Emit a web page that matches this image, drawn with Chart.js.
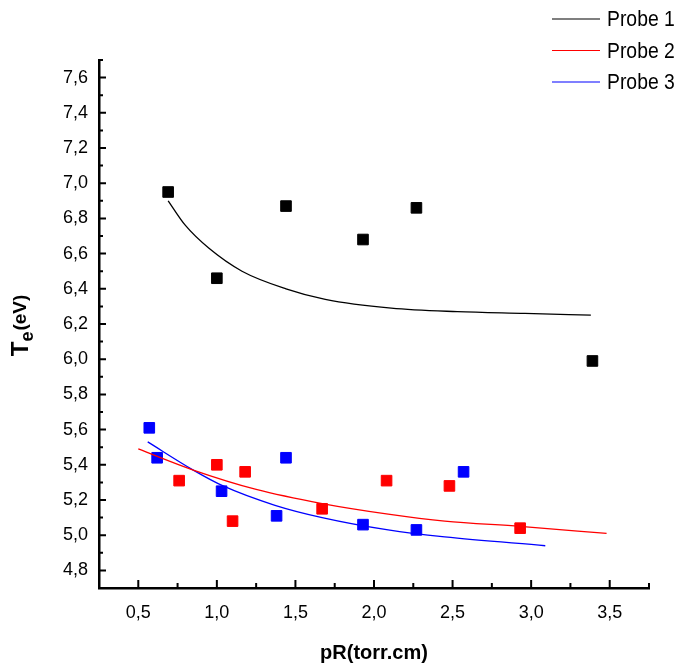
<!DOCTYPE html>
<html>
<head>
<meta charset="utf-8">
<script src="https://cdn.jsdelivr.net/npm/chart.js@4.4.1/dist/chart.umd.min.js"></script>
<style>
  html, body { margin: 0; padding: 0; background: #fff; }
  #wrap { width: 683px; height: 668px; }
</style>
</head>
<body>
<div id="wrap"><canvas id="teChart" width="683" height="668"></canvas></div>
<script>
const probe1X = [0.69, 1.00, 1.44, 1.93, 2.27, 3.39];
const probe1Y = [6.95, 6.46, 6.87, 6.68, 6.86, 5.99];
const probe2X = [0.76, 1.00, 1.10, 1.18, 1.67, 2.08, 2.48, 2.93];
const probe2Y = [5.31, 5.40, 5.08, 5.36, 5.15, 5.31, 5.28, 5.04];
const probe3X = [0.57, 0.62, 1.03, 1.38, 1.44, 1.93, 2.27, 2.57];
const probe3Y = [5.61, 5.44, 5.25, 5.11, 5.44, 5.06, 5.03, 5.36];

// fitted curves
const fit1X = [0.69, 0.80, 0.95, 1.16, 1.44, 1.69, 2.11, 2.53, 2.96, 3.38];
const fit1Y = [6.90, 6.76, 6.63, 6.50, 6.40, 6.34, 6.29, 6.27, 6.26, 6.25];
const fit2X = [0.50, 0.85, 1.25, 1.67, 2.09, 2.45, 2.93, 3.48];
const fit2Y = [5.49, 5.37, 5.26, 5.18, 5.12, 5.08, 5.05, 5.01];
const fit3X = [0.56, 0.85, 1.04, 1.37, 1.67, 2.09, 2.45, 3.09];
const fit3Y = [5.53, 5.37, 5.28, 5.17, 5.10, 5.03, 4.99, 4.94];

const seriesNames = ['Probe 1', 'Probe 2', 'Probe 3'];
const seriesColors = ['#000000', '#ff0000', '#0000ff'];

const xTicks = [0.5, 1.0, 1.5, 2.0, 2.5, 3.0, 3.5];
const yTicks = [4.8, 5.0, 5.2, 5.4, 5.6, 5.8, 6.0, 6.2, 6.4, 6.6, 6.8, 7.0, 7.2, 7.4, 7.6];

const FONT = '"Liberation Sans", Arial, sans-serif';

function pairs(xs, ys) {
  return xs.map((x, i) => ({ x: x, y: ys[i] }));
}

const fits = [[fit1X, fit1Y], [fit2X, fit2Y], [fit3X, fit3Y]];
const points = [[probe1X, probe1Y], [probe2X, probe2Y], [probe3X, probe3Y]];

let datasets = [];
for (let i = 0; i < 3; i++) {
  datasets.push({
    type: 'line',
    label: seriesNames[i],
    data: pairs(fits[i][0], fits[i][1]),
    borderColor: seriesColors[i],
    borderWidth: 1.3,
    pointRadius: 0,
    fill: false,
    cubicInterpolationMode: 'monotone',
    isFit: true
  });
}
for (let i = 0; i < 3; i++) {
  datasets.push({
    type: 'scatter',
    label: seriesNames[i] + ' data',
    data: pairs(points[i][0], points[i][1]),
    backgroundColor: seriesColors[i],
    borderColor: seriesColors[i],
    borderWidth: 1,
    pointStyle: 'rect',
    pointRadius: 7.5,
    isFit: false
  });
}

const comma = v => v.toFixed(1).replace('.', ',');

// ticks point inward, like the original plot
const innerTicks = {
  id: 'innerTicks',
  afterDraw(chart) {
    const ctx = chart.ctx;
    const xs = chart.scales.x, ys = chart.scales.y;
    const area = chart.chartArea;
    ctx.save();
    ctx.strokeStyle = '#000';
    ctx.lineWidth = 2;
    ctx.beginPath();
    for (let i = 0; i < xTicks.length; i++) {
      const px = xs.getPixelForValue(xTicks[i]);
      ctx.moveTo(px, area.bottom);
      ctx.lineTo(px, area.bottom - 8);
    }
    let xMinor = [xTicks[0] - 0.25].concat(xTicks.map(v => v + 0.25));
    for (let i = 0; i < xMinor.length; i++) {
      const px = xs.getPixelForValue(xMinor[i]);
      ctx.moveTo(px, area.bottom);
      ctx.lineTo(px, area.bottom - 5);
    }
    for (let i = 0; i < yTicks.length; i++) {
      const py = ys.getPixelForValue(yTicks[i]);
      ctx.moveTo(area.left, py);
      ctx.lineTo(area.left + 7, py);
    }
    let yMinor = [yTicks[0] - 0.1].concat(yTicks.map(v => v + 0.1));
    for (let i = 0; i < yMinor.length; i++) {
      const py = ys.getPixelForValue(yMinor[i]);
      ctx.moveTo(area.left, py);
      ctx.lineTo(area.left + 4, py);
    }
    ctx.stroke();
    ctx.restore();
  }
};

const titlesAndLegend = {
  id: 'titlesAndLegend',
  afterDraw(chart) {
    const ctx = chart.ctx;
    const area = chart.chartArea;
    ctx.save();
    ctx.fillStyle = '#000';

    // x title
    ctx.font = 'bold 20px ' + FONT;
    ctx.textAlign = 'center';
    ctx.textBaseline = 'alphabetic';
    ctx.fillText('pR(torr.cm)', (area.left + area.right) / 2, 659);

    // y title, T with subscript e
    ctx.translate(28, 326);
    ctx.rotate(-Math.PI / 2);
    ctx.textAlign = 'left';
    ctx.font = 'bold 24px ' + FONT;
    const wT = ctx.measureText('T').width;
    ctx.font = 'bold 18px ' + FONT;
    const wE = ctx.measureText('e').width;
    ctx.font = 'bold 19px ' + FONT;
    const wU = ctx.measureText('(eV)').width;
    let start = -(wT + wE + wU) / 2;
    ctx.font = 'bold 24px ' + FONT;
    ctx.fillText('T', start, 0);
    ctx.font = 'bold 18px ' + FONT;
    ctx.fillText('e', start + wT, 5);
    ctx.font = 'bold 19px ' + FONT;
    ctx.fillText('(eV)', start + wT + wE + 1, -2);
    ctx.setTransform(1, 0, 0, 1, 0, 0);

    // legend, a little condensed like the original
    ctx.textBaseline = 'middle';
    ctx.textAlign = 'left';
    let k = 0;
    chart.data.datasets.forEach(ds => {
      if (!ds.isFit) return;
      const y = 19 + k * 31.5;
      ctx.strokeStyle = ds.borderColor;
      ctx.lineWidth = 1.2;
      ctx.beginPath();
      ctx.moveTo(552, y);
      ctx.lineTo(600, y);
      ctx.stroke();
      ctx.save();
      ctx.translate(607, y + 1);
      ctx.scale(0.88, 1);
      ctx.fillStyle = '#000';
      ctx.font = '22px ' + FONT;
      ctx.fillText(ds.label, 0, 0);
      ctx.restore();
      k++;
    });
    ctx.restore();
  }
};

const teChart = new Chart(document.getElementById('teChart'), {
  data: { datasets: datasets },
  options: {
    responsive: false,
    animation: false,
    layout: { padding: { left: 0, top: 60, right: 34, bottom: 0 } },
    plugins: {
      legend: { display: false },
      tooltip: { enabled: false }
    },
    scales: {
      x: {
        type: 'linear',
        min: 0.25,
        max: 3.75,
        afterBuildTicks: scale => { scale.ticks = xTicks.map(v => ({ value: v })); },
        afterFit: scale => { scale.height = 80; },
        grid: { display: false, drawTicks: false },
        border: { display: true, color: '#000', width: 2.5 },
        ticks: {
          padding: 14,
          color: '#000',
          font: { family: FONT, size: 18 },
          callback: v => comma(v),
          maxRotation: 0
        }
      },
      y: {
        type: 'linear',
        min: 4.7,
        max: 7.7,
        afterBuildTicks: scale => { scale.ticks = yTicks.map(v => ({ value: v })); },
        afterFit: scale => { scale.width = 99; },
        grid: { display: false, drawTicks: false },
        border: { display: true, color: '#000', width: 2.5 },
        ticks: {
          padding: 11,
          color: '#000',
          font: { family: FONT, size: 18 },
          callback: v => comma(v)
        }
      }
    }
  },
  plugins: [innerTicks, titlesAndLegend]
});
</script>
</body>
</html>
